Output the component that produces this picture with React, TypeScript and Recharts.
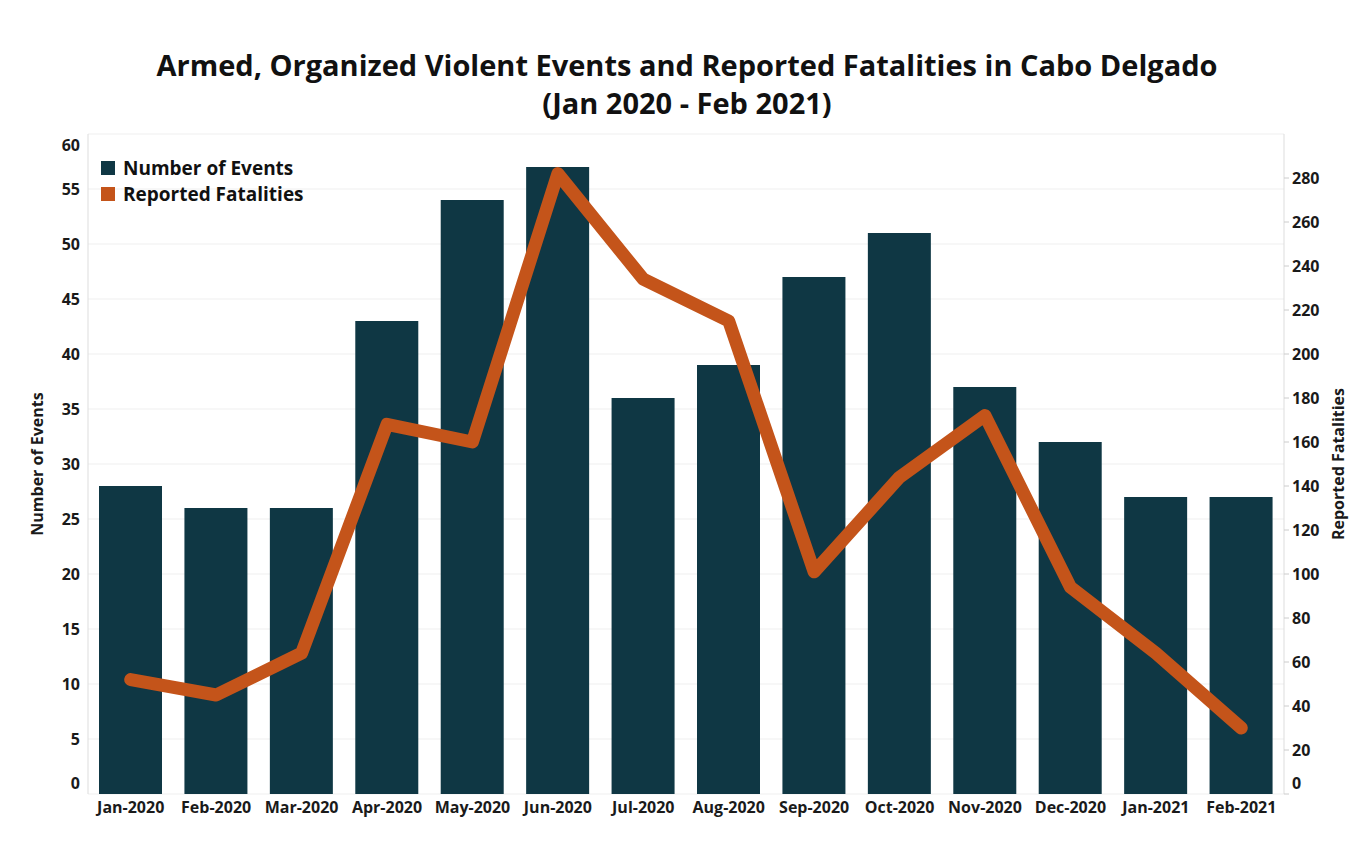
import React from 'react';
import { ComposedChart, Bar, Line, XAxis, YAxis, CartesianGrid, Legend } from 'recharts';

const months = ['Jan-2020', 'Feb-2020', 'Mar-2020', 'Apr-2020', 'May-2020', 'Jun-2020', 'Jul-2020', 'Aug-2020', 'Sep-2020', 'Oct-2020', 'Nov-2020', 'Dec-2020', 'Jan-2021', 'Feb-2021'];
const events = [28, 26, 26, 43, 54, 57, 36, 39, 47, 51, 37, 32, 27, 27];
const fatalities = [52, 45, 64, 168, 160, 282, 234, 215, 101, 144, 172, 94, 64, 30];
const leftTicks = [0, 5, 10, 15, 20, 25, 30, 35, 40, 45, 50, 55, 60];
const rightTicks = [0, 20, 40, 60, 80, 100, 120, 140, 160, 180, 200, 220, 240, 260, 280];
const sepTicks = [0, 1, 2, 3, 4, 5, 6, 7, 8, 9, 10, 11, 12, 13, 14];

const data = months.map((m, i) => ({ month: m, events: events[i], fatalities: fatalities[i] }));

const FONT = '"Open Sans", "Noto Sans", sans-serif';
const BAR = '#0f3744';
const LINE = '#c4541a';

const LeftTick = (props: any) => {
  const { x, y, payload } = props;
  let dy = 0;
  if (payload.value === 60) dy = 11;
  if (payload.value === 0) dy = -11;
  return (
    <text x={x} y={y + dy} dy="0.36em" textAnchor="end" fontFamily={FONT} fontWeight={700} fontSize={16} fill="#1a1a1a">
      {payload.value}
    </text>
  );
};

const RightTick = (props: any) => {
  const { x, y, payload } = props;
  let dy = 0;
  if (payload.value === 0) dy = -11;
  return (
    <text x={x} y={y + dy} dy="0.36em" textAnchor="start" fontFamily={FONT} fontWeight={700} fontSize={16} fill="#1a1a1a">
      {payload.value}
    </text>
  );
};

const LegendContent = (props: any) => {
  const { payload } = props;
  return (
    <div style={{ fontFamily: FONT, fontWeight: 700, fontSize: 19, color: '#111' }}>
      {(payload || []).map((p: any) => (
        <div key={p.value} style={{ display: 'flex', alignItems: 'center', height: 26 }}>
          <span style={{ display: 'inline-block', width: 14, height: 14, background: p.color, marginRight: 8 }} />
          <span>{p.value}</span>
        </div>
      ))}
    </div>
  );
};

export default function App() {
  return (
    <div style={{ position: 'absolute', left: 0, top: 0, width: 1368, height: 856, background: '#fff' }}>
      <div
        style={{
          position: 'absolute',
          left: 3,
          top: 46,
          width: 1368,
          textAlign: 'center',
          fontFamily: FONT,
          fontWeight: 700,
          fontSize: 29,
          lineHeight: '38px',
          color: '#111',
        }}
      >
        <div>Armed, Organized Violent Events and Reported Fatalities in Cabo Delgado</div>
        <div>(Jan 2020 - Feb 2021)</div>
      </div>
      <div style={{ position: 'absolute', left: 0, top: 0 }}>
        <ComposedChart width={1368} height={856} data={data} margin={{ top: 134, right: 0, left: 0, bottom: 32 }} barCategoryGap={0}>
          <CartesianGrid horizontal vertical={false} stroke="#efefef" yAxisId="left" xAxisId="cat" />
          <XAxis
            xAxisId="sep"
            type="number"
            domain={[0, 14]}
            ticks={sepTicks}
            allowDataOverflow
            tick={false}
            height={0}
            axisLine={{ stroke: '#dddddd' }}
            tickLine={{ stroke: '#dddddd' }}
            tickSize={5}
          />
          <XAxis
            xAxisId="cat"
            dataKey="month"
            height={30}
            axisLine={false}
            tickLine={false}
            interval={0}
            tick={{ fontFamily: FONT, fontWeight: 700, fontSize: 16, fill: '#1a1a1a' }}
          />
          <YAxis
            yAxisId="left"
            orientation="left"
            width={88}
            domain={[0, 60]}
            ticks={leftTicks}
            interval={0}
            tickSize={0}
            tickMargin={8}
            tickLine={false}
            axisLine={{ stroke: '#dddddd' }}
            tick={<LeftTick />}
            label={{
              content: (p: any) => {
                const vb = p.viewBox || {};
                const cx = 37;
                const cy = (vb.y || 134) + (vb.height || 660) / 2;
                return (
                  <text x={cx} y={cy} transform={`rotate(-90 ${cx} ${cy})`} textAnchor="middle" dominantBaseline="central" fontFamily={FONT} fontWeight={700} fontSize={16} fill="#1a1a1a">
                    Number of Events
                  </text>
                );
              },
            }}
          />
          <YAxis
            yAxisId="right"
            orientation="right"
            width={84}
            domain={[0, 300]}
            ticks={rightTicks}
            interval={0}
            tickSize={5}
            tickMargin={3}
            tickLine={{ stroke: '#cccccc' }}
            axisLine={{ stroke: '#dddddd' }}
            tick={<RightTick />}
            label={{
              content: (p: any) => {
                const vb = p.viewBox || {};
                const cx = 1338;
                const cy = (vb.y || 134) + (vb.height || 660) / 2;
                return (
                  <text x={cx} y={cy} transform={`rotate(-90 ${cx} ${cy})`} textAnchor="middle" dominantBaseline="central" fontFamily={FONT} fontWeight={700} fontSize={16} fill="#1a1a1a">
                    Reported Fatalities
                  </text>
                );
              },
            }}
          />
          <Legend
            layout="vertical"
            align="center"
            verticalAlign="middle"
            content={<LegendContent />}
            wrapperStyle={{ left: 101, top: 155, width: 300, height: 60 }}
          />
          <Bar xAxisId="cat" yAxisId="left" dataKey="events" name="Number of Events" fill={BAR} barSize={63} isAnimationActive={false} />
          <Line
            xAxisId="cat"
            yAxisId="right"
            type="linear"
            dataKey="fatalities"
            name="Reported Fatalities"
            stroke={LINE}
            strokeWidth={13}
            strokeLinejoin="round"
            strokeLinecap="round"
            dot={false}
            activeDot={false}
            isAnimationActive={false}
          />
        </ComposedChart>
      </div>
    </div>
  );
}
